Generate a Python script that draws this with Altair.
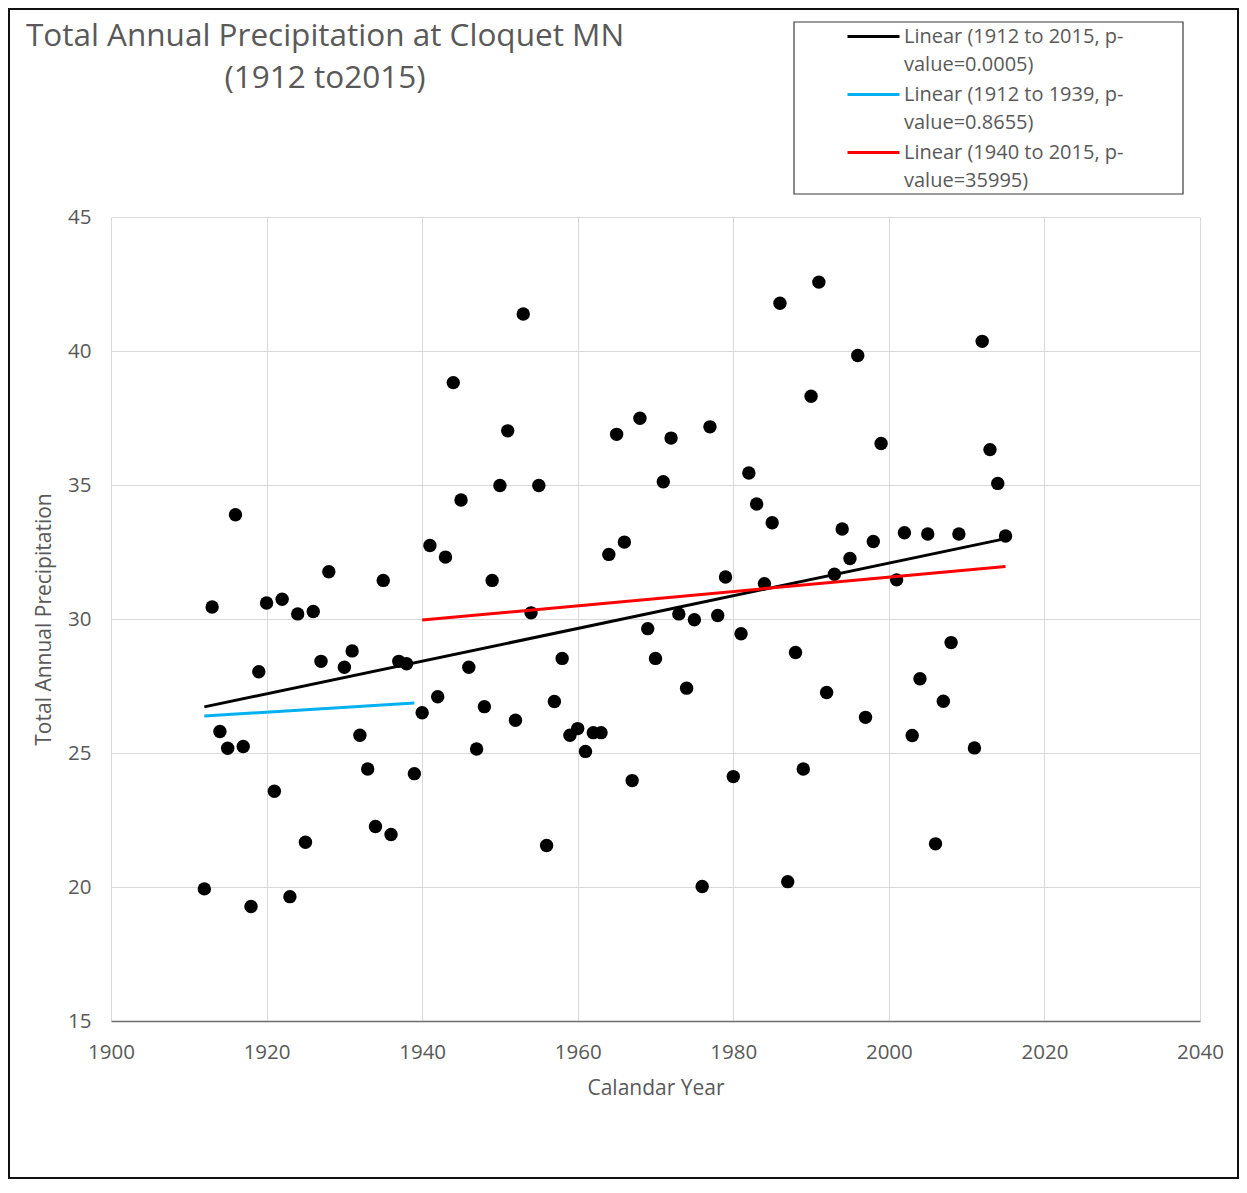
import altair as alt
import pandas as pd

# ---------------- data ----------------
YEARS = [1912, 1913, 1914, 1915, 1916, 1917, 1918, 1919, 1920, 1921, 1922, 1923, 1924,
         1925, 1926, 1927, 1928, 1930, 1931, 1932, 1933, 1934, 1935, 1936, 1937, 1938,
         1939, 1940, 1941, 1942, 1943, 1944, 1945, 1946, 1947, 1948, 1949, 1950, 1951,
         1952, 1953, 1954, 1955, 1956, 1957, 1958, 1959, 1960, 1961, 1962, 1963, 1964,
         1965, 1966, 1967, 1968, 1969, 1970, 1971, 1972, 1973, 1974, 1975, 1976, 1977,
         1978, 1979, 1980, 1981, 1982, 1983, 1984, 1985, 1986, 1987, 1988, 1989, 1990,
         1991, 1992, 1993, 1994, 1995, 1996, 1997, 1998, 1999, 2001, 2002, 2003, 2004,
         2005, 2006, 2007, 2008, 2009, 2011, 2012, 2013, 2014, 2015]
PRECIP = [19.93, 30.45, 25.80, 25.18, 33.89, 25.24, 19.27, 28.03, 30.60, 23.57, 30.74,
          19.64, 30.19, 21.67, 30.28, 28.42, 31.76, 28.20, 28.81, 25.66, 24.40, 22.26,
          31.44, 21.96, 28.42, 28.33, 24.23, 26.50, 32.74, 27.10, 32.31, 38.82, 34.44,
          28.20, 25.15, 26.73, 31.44, 34.98, 37.02, 26.22, 41.38, 30.23, 34.98, 21.55,
          26.92, 28.53, 25.66, 25.91, 25.06, 25.76, 25.76, 32.41, 36.89, 32.87, 23.97,
          37.49, 29.64, 28.53, 35.12, 36.75, 30.19, 27.42, 29.97, 20.02, 37.17, 30.13,
          31.57, 24.12, 29.45, 35.45, 34.29, 31.32, 33.59, 41.78, 20.20, 28.75, 24.40,
          38.31, 42.57, 27.26, 31.67, 33.36, 32.26, 39.83, 26.33, 32.89, 36.55, 31.46,
          33.22, 25.65, 27.77, 33.17, 21.61, 26.93, 29.12, 33.17, 25.19, 40.36, 36.32,
          35.06, 33.10]

TREND_LABELS = ["Linear (1912 to 2015, p-|value=0.0005)",
                "Linear (1912 to 1939, p-|value=0.8655)",
                "Linear (1940 to 2015, p-|value=35995)"]
TREND_START_YEAR = [1912, 1912, 1940]
TREND_END_YEAR = [2015, 1939, 2015]
TREND_START_VAL = [26.72, 26.38, 29.96]
TREND_END_VAL = [33.00, 26.87, 31.96]
TREND_COLORS = ["#000000", "#00B0F0", "#FF0000"]

X_TICKS = [1900, 1920, 1940, 1960, 1980, 2000, 2020, 2040]
Y_TICKS = [15, 20, 25, 30, 35, 40, 45]
TITLE_LINES = ["Total Annual Precipitation at Cloquet MN", "(1912 to2015)"]

# ---------------- layout ----------------
W, H = 1089, 804
PAD = {"left": 103, "top": 209, "right": 39, "bottom": 158}
TEXT = "#595959"
FONT = "Open Sans"

pts = pd.DataFrame({"year": YEARS, "precip": PRECIP})
rows = []
for lab, y0, y1, v0, v1 in zip(TREND_LABELS, TREND_START_YEAR, TREND_END_YEAR,
                               TREND_START_VAL, TREND_END_VAL):
    rows.append({"series": lab, "year": y0, "precip": v0})
    rows.append({"series": lab, "year": y1, "precip": v1})
trend = pd.DataFrame(rows)

x_scale = alt.Scale(domain=[1900, 2040], nice=False, zero=False)
y_scale = alt.Scale(domain=[15, 45], nice=False, zero=False)

x_axis = alt.Axis(values=X_TICKS, format="d", title="Calandar Year", grid=True,
                  domain=True, domainColor="#6E6E6E", domainWidth=1.5,
                  ticks=False, tickSize=0, labelPadding=21, labelFontSize=20.5,
                  labelFlush=False, titleFontSize=21, titleY=67,
                  titleBaseline="middle")
y_axis = alt.Axis(values=Y_TICKS, title="Total Annual Precipitation", grid=True,
                  domain=False, ticks=False, tickSize=0, labelPadding=20,
                  labelFontSize=20.5, labelFlush=False, titleFontSize=21,
                  titleX=-67, titleBaseline="middle")

points = alt.Chart(pts).mark_circle(size=180, color="black", opacity=1).encode(
    x=alt.X("year:Q", scale=x_scale, axis=x_axis),
    y=alt.Y("precip:Q", scale=y_scale, axis=y_axis),
)

lines = alt.Chart(trend).mark_line(strokeWidth=3).encode(
    x=alt.X("year:Q", scale=x_scale),
    y=alt.Y("precip:Q", scale=y_scale),
    color=alt.Color(
        "series:N",
        scale=alt.Scale(domain=TREND_LABELS, range=TREND_COLORS),
        legend=alt.Legend(
            orient="none", legendX=748, legendY=-195, title=None,
            symbolType="M-2,0H2", symbolSize=676, symbolStrokeWidth=3,
            labelFont=FONT, labelFontSize=20, labelColor=TEXT,
            labelExpr="split(datum.label, '|')", labelLimit=600,
            labelOffset=16, labelBaseline="middle", rowPadding=5,
            padding=0, symbolOffset=0,
        ),
    ),
)

one = pd.DataFrame({"k": [0]})
title = alt.Chart(one).mark_text(
    font=FONT, fontSize=31.5, color=TEXT, align="center", baseline="alphabetic",
    lineHeight=42,
).encode(x=alt.value(214), y=alt.value(-171), text=alt.value(TITLE_LINES))

legend_box = alt.Chart(one).mark_rect(
    fill="white", fillOpacity=0, stroke="#3A3A3A", strokeWidth=1.2
).encode(x=alt.value(683), x2=alt.value(1072), y=alt.value(-195), y2=alt.value(-23))

frame = alt.Chart(one).mark_rect(
    fill="white", fillOpacity=0, stroke="#111111", strokeWidth=2
).encode(
    x=alt.value(-PAD["left"] + 1), x2=alt.value(W + PAD["right"] - 1),
    y=alt.value(-PAD["top"] + 1), y2=alt.value(H + PAD["bottom"] - 1),
)

chart = alt.layer(points, lines, title, legend_box, frame).properties(
    width=W, height=H,
    autosize=alt.AutoSizeParams(type="none"),
    padding=PAD,
).configure(
    style={"guide-label": {"lineHeight": 28}},
    view=alt.ViewConfig(stroke=None),
    axis=alt.AxisConfig(
        labelFont=FONT, labelColor=TEXT, titleFont=FONT, titleColor=TEXT,
        titleFontWeight="normal", gridColor="#D9D9D9", gridWidth=1,
    ),
)

chart.save("out.html", embed_options={"renderer": "svg", "actions": False})
